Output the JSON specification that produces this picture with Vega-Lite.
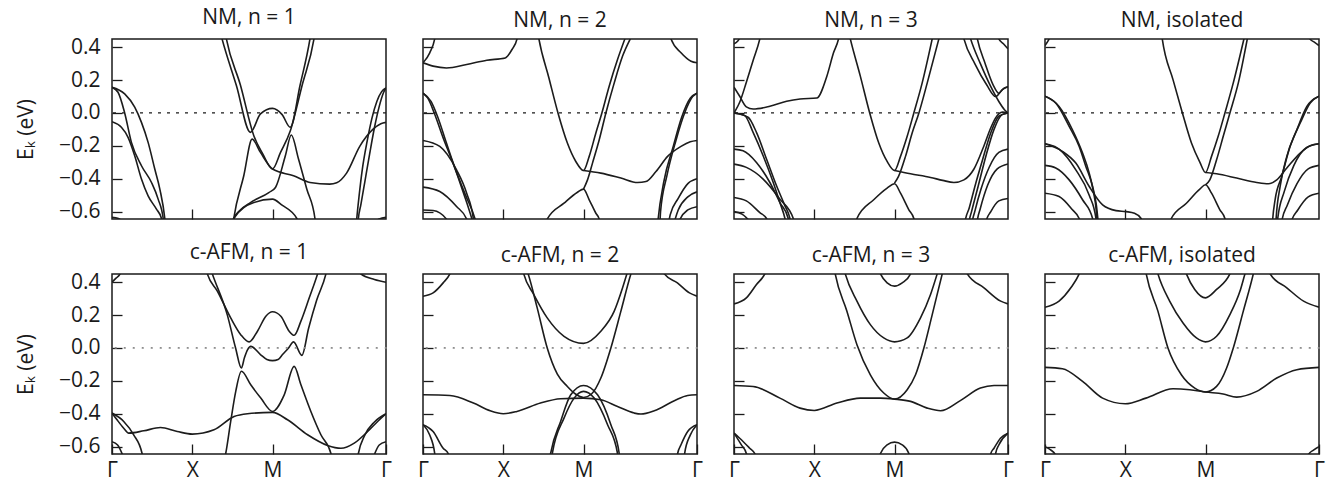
{
"$schema": "https://vega.github.io/schema/vega-lite/v6.json",
"background": "white",
"padding": {"left": 14, "top": 6, "right": 2, "bottom": 0},
"spacing": 18,
"datasets": {"bands": [
{"p":1,"b":1,"k":0,"e":0.156},{"p":1,"b":1,"k":0.158,"e":0.116},{"p":1,"b":1,"k":0.283,"e":0.035},{"p":1,"b":1,"k":0.367,"e":-0.057},{"p":1,"b":1,"k":0.45,"e":-0.179},{"p":1,"b":1,"k":0.533,"e":-0.341},{"p":1,"b":1,"k":0.596,"e":-0.463},{"p":1,"b":1,"k":0.658,"e":-0.642},{"p":1,"b":1,"k":0.67,"e":-0.7},
{"p":1,"b":2,"k":0,"e":0.156},{"p":1,"b":2,"k":0.075,"e":0.126},{"p":1,"b":2,"k":0.158,"e":0},{"p":1,"b":2,"k":0.242,"e":-0.179},{"p":1,"b":2,"k":0.367,"e":-0.321},{"p":1,"b":2,"k":0.492,"e":-0.423},{"p":1,"b":2,"k":0.575,"e":-0.524},{"p":1,"b":2,"k":0.638,"e":-0.642},{"p":1,"b":2,"k":0.65,"e":-0.7},
{"p":1,"b":3,"k":0,"e":-0.053},{"p":1,"b":3,"k":0.117,"e":-0.087},{"p":1,"b":3,"k":0.2,"e":-0.148},{"p":1,"b":3,"k":0.283,"e":-0.26},{"p":1,"b":3,"k":0.367,"e":-0.402},{"p":1,"b":3,"k":0.45,"e":-0.504},{"p":1,"b":3,"k":0.554,"e":-0.585},{"p":1,"b":3,"k":0.617,"e":-0.642},{"p":1,"b":3,"k":0.63,"e":-0.7},
{"p":1,"b":4,"k":0,"e":-0.635},{"p":1,"b":4,"k":0.08,"e":-0.642},{"p":1,"b":4,"k":0.15,"e":-0.67},
{"p":1,"b":5,"k":1.35,"e":0.49},{"p":1,"b":5,"k":1.371,"e":0.451},{"p":1,"b":5,"k":1.55,"e":0.167},{"p":1,"b":5,"k":1.725,"e":-0.118},{"p":1,"b":5,"k":1.85,"e":-0.006},{"p":1,"b":5,"k":2,"e":0.028},{"p":1,"b":5,"k":2.12,"e":-0.01},{"p":1,"b":5,"k":2.221,"e":-0.087},{"p":1,"b":5,"k":2.344,"e":0.17},{"p":1,"b":5,"k":2.467,"e":0.451},{"p":1,"b":5,"k":2.48,"e":0.49},
{"p":1,"b":6,"k":1.41,"e":0.49},{"p":1,"b":6,"k":1.425,"e":0.451},{"p":1,"b":6,"k":1.6,"e":0.17},{"p":1,"b":6,"k":1.767,"e":-0.138},{"p":1,"b":6,"k":1.88,"e":-0.25},{"p":1,"b":6,"k":2,"e":-0.341},{"p":1,"b":6,"k":2.1,"e":-0.24},{"p":1,"b":6,"k":2.221,"e":-0.11},{"p":1,"b":6,"k":2.37,"e":0.17},{"p":1,"b":6,"k":2.517,"e":0.451},{"p":1,"b":6,"k":2.53,"e":0.49},
{"p":1,"b":7,"k":1.5,"e":-0.7},{"p":1,"b":7,"k":1.517,"e":-0.642},{"p":1,"b":7,"k":1.6,"e":-0.59},{"p":1,"b":7,"k":1.725,"e":-0.545},{"p":1,"b":7,"k":1.954,"e":-0.484},{"p":1,"b":7,"k":2.037,"e":-0.453},{"p":1,"b":7,"k":2.16,"e":-0.26},{"p":1,"b":7,"k":2.234,"e":-0.134},{"p":1,"b":7,"k":2.324,"e":-0.28},{"p":1,"b":7,"k":2.427,"e":-0.463},{"p":1,"b":7,"k":2.529,"e":-0.642},{"p":1,"b":7,"k":2.54,"e":-0.7},
{"p":1,"b":8,"k":1.5,"e":-0.7},{"p":1,"b":8,"k":1.517,"e":-0.642},{"p":1,"b":8,"k":1.642,"e":-0.382},{"p":1,"b":8,"k":1.746,"e":-0.159},{"p":1,"b":8,"k":1.85,"e":-0.24},{"p":1,"b":8,"k":2,"e":-0.341},{"p":1,"b":8,"k":2.262,"e":-0.382},{"p":1,"b":8,"k":2.467,"e":-0.423},{"p":1,"b":8,"k":2.713,"e":-0.433},{"p":1,"b":8,"k":2.8,"e":-0.425},{"p":1,"b":8,"k":2.923,"e":-0.366},{"p":1,"b":8,"k":3.087,"e":-0.203},{"p":1,"b":8,"k":3.25,"e":-0.1},{"p":1,"b":8,"k":3.35,"e":-0.065},{"p":1,"b":8,"k":3.414,"e":-0.057},
{"p":1,"b":9,"k":1.5,"e":-0.68},{"p":1,"b":9,"k":1.517,"e":-0.642},{"p":1,"b":9,"k":1.767,"e":-0.545},{"p":1,"b":9,"k":2,"e":-0.524},{"p":1,"b":9,"k":2.119,"e":-0.561},{"p":1,"b":9,"k":2.303,"e":-0.642},{"p":1,"b":9,"k":2.32,"e":-0.68},
{"p":1,"b":10,"k":3.04,"e":-0.7},{"p":1,"b":10,"k":3.05,"e":-0.642},{"p":1,"b":10,"k":3.08,"e":-0.5},{"p":1,"b":10,"k":3.12,"e":-0.34},{"p":1,"b":10,"k":3.18,"e":-0.17},{"p":1,"b":10,"k":3.24,"e":-0.03},{"p":1,"b":10,"k":3.3,"e":0.07},{"p":1,"b":10,"k":3.36,"e":0.13},{"p":1,"b":10,"k":3.414,"e":0.152},
{"p":1,"b":11,"k":3.06,"e":-0.7},{"p":1,"b":11,"k":3.07,"e":-0.642},{"p":1,"b":11,"k":3.1,"e":-0.56},{"p":1,"b":11,"k":3.15,"e":-0.42},{"p":1,"b":11,"k":3.21,"e":-0.25},{"p":1,"b":11,"k":3.27,"e":-0.09},{"p":1,"b":11,"k":3.33,"e":0.04},{"p":1,"b":11,"k":3.38,"e":0.12},{"p":1,"b":11,"k":3.414,"e":0.152},
{"p":1,"b":12,"k":3.25,"e":-0.67},{"p":1,"b":12,"k":3.33,"e":-0.645},{"p":1,"b":12,"k":3.414,"e":-0.635},

{"p":2,"b":1,"k":0,"e":0.305},{"p":2,"b":1,"k":0.126,"e":0.285},{"p":2,"b":1,"k":0.293,"e":0.274},{"p":2,"b":1,"k":0.544,"e":0.295},{"p":2,"b":1,"k":0.795,"e":0.321},{"p":2,"b":1,"k":1.025,"e":0.335},{"p":2,"b":1,"k":1.109,"e":0.386},{"p":2,"b":1,"k":1.172,"e":0.451},{"p":2,"b":1,"k":1.19,"e":0.5},
{"p":2,"b":2,"k":0,"e":0.305},{"p":2,"b":2,"k":0.084,"e":0.366},{"p":2,"b":2,"k":0.146,"e":0.451},{"p":2,"b":2,"k":0.16,"e":0.49},
{"p":2,"b":3,"k":3.07,"e":0.49},{"p":2,"b":3,"k":3.09,"e":0.451},{"p":2,"b":3,"k":3.215,"e":0.366},{"p":2,"b":3,"k":3.34,"e":0.315},{"p":2,"b":3,"k":3.414,"e":0.305},
{"p":2,"b":4,"k":0,"e":0.12},{"p":2,"b":4,"k":0.06,"e":0.09},{"p":2,"b":4,"k":0.14,"e":0},{"p":2,"b":4,"k":0.25,"e":-0.15},{"p":2,"b":4,"k":0.37,"e":-0.3},{"p":2,"b":4,"k":0.5,"e":-0.48},{"p":2,"b":4,"k":0.61,"e":-0.646},{"p":2,"b":4,"k":0.64,"e":-0.7},
{"p":2,"b":5,"k":0,"e":0.12},{"p":2,"b":5,"k":0.1,"e":0.07},{"p":2,"b":5,"k":0.18,"e":-0.02},{"p":2,"b":5,"k":0.29,"e":-0.18},{"p":2,"b":5,"k":0.41,"e":-0.35},{"p":2,"b":5,"k":0.53,"e":-0.5},{"p":2,"b":5,"k":0.65,"e":-0.646},{"p":2,"b":5,"k":0.68,"e":-0.7},
{"p":2,"b":6,"k":0,"e":-0.167},{"p":2,"b":6,"k":0.209,"e":-0.203},{"p":2,"b":6,"k":0.418,"e":-0.346},{"p":2,"b":6,"k":0.544,"e":-0.488},{"p":2,"b":6,"k":0.628,"e":-0.646},{"p":2,"b":6,"k":0.64,"e":-0.7},
{"p":2,"b":7,"k":0,"e":-0.451},{"p":2,"b":7,"k":0.209,"e":-0.478},{"p":2,"b":7,"k":0.418,"e":-0.569},{"p":2,"b":7,"k":0.544,"e":-0.646},{"p":2,"b":7,"k":0.56,"e":-0.7},
{"p":2,"b":8,"k":0,"e":-0.59},{"p":2,"b":8,"k":0.126,"e":-0.593},{"p":2,"b":8,"k":0.293,"e":-0.646},{"p":2,"b":8,"k":0.31,"e":-0.7},
{"p":2,"b":9,"k":1.43,"e":0.49},{"p":2,"b":9,"k":1.444,"e":0.451},{"p":2,"b":9,"k":1.569,"e":0.213},{"p":2,"b":9,"k":1.682,"e":0},{"p":2,"b":9,"k":1.799,"e":-0.183},{"p":2,"b":9,"k":1.904,"e":-0.295},{"p":2,"b":9,"k":2,"e":-0.35},{"p":2,"b":9,"k":2.071,"e":-0.264},{"p":2,"b":9,"k":2.154,"e":-0.122},{"p":2,"b":9,"k":2.229,"e":0},{"p":2,"b":9,"k":2.32,"e":0.163},{"p":2,"b":9,"k":2.424,"e":0.325},{"p":2,"b":9,"k":2.516,"e":0.451},
{"p":2,"b":10,"k":2,"e":-0.463},{"p":2,"b":10,"k":2.05,"e":-0.407},{"p":2,"b":10,"k":2.112,"e":-0.305},{"p":2,"b":10,"k":2.196,"e":-0.163},{"p":2,"b":10,"k":2.279,"e":0},{"p":2,"b":10,"k":2.383,"e":0.183},{"p":2,"b":10,"k":2.487,"e":0.346},{"p":2,"b":10,"k":2.583,"e":0.451},
{"p":2,"b":11,"k":1.53,"e":-0.7},{"p":2,"b":11,"k":1.548,"e":-0.646},{"p":2,"b":11,"k":1.757,"e":-0.549},{"p":2,"b":11,"k":1.925,"e":-0.482},{"p":2,"b":11,"k":2,"e":-0.463},{"p":2,"b":11,"k":2.071,"e":-0.528},{"p":2,"b":11,"k":2.154,"e":-0.61},{"p":2,"b":11,"k":2.196,"e":-0.646},{"p":2,"b":11,"k":2.21,"e":-0.7},
{"p":2,"b":12,"k":2,"e":-0.35},{"p":2,"b":12,"k":2.216,"e":-0.366},{"p":2,"b":12,"k":2.466,"e":-0.396},{"p":2,"b":12,"k":2.674,"e":-0.423},{"p":2,"b":12,"k":2.778,"e":-0.417},{"p":2,"b":12,"k":2.903,"e":-0.356},{"p":2,"b":12,"k":3.048,"e":-0.264},{"p":2,"b":12,"k":3.215,"e":-0.203},{"p":2,"b":12,"k":3.33,"e":-0.175},{"p":2,"b":12,"k":3.414,"e":-0.167},
{"p":2,"b":13,"k":2.92,"e":-0.7},{"p":2,"b":13,"k":2.93,"e":-0.646},{"p":2,"b":13,"k":3,"e":-0.42},{"p":2,"b":13,"k":3.12,"e":-0.2},{"p":2,"b":13,"k":3.22,"e":-0.03},{"p":2,"b":13,"k":3.33,"e":0.09},{"p":2,"b":13,"k":3.414,"e":0.12},
{"p":2,"b":14,"k":2.95,"e":-0.7},{"p":2,"b":14,"k":2.96,"e":-0.6},{"p":2,"b":14,"k":3.04,"e":-0.38},{"p":2,"b":14,"k":3.15,"e":-0.17},{"p":2,"b":14,"k":3.26,"e":0},{"p":2,"b":14,"k":3.36,"e":0.1},{"p":2,"b":14,"k":3.414,"e":0.12},
{"p":2,"b":15,"k":3.05,"e":-0.7},{"p":2,"b":15,"k":3.08,"e":-0.62},{"p":2,"b":15,"k":3.18,"e":-0.52},{"p":2,"b":15,"k":3.3,"e":-0.43},{"p":2,"b":15,"k":3.414,"e":-0.4},
{"p":2,"b":16,"k":3.11,"e":-0.7},{"p":2,"b":16,"k":3.18,"e":-0.59},{"p":2,"b":16,"k":3.3,"e":-0.51},{"p":2,"b":16,"k":3.414,"e":-0.48},
{"p":2,"b":17,"k":3.17,"e":-0.7},{"p":2,"b":17,"k":3.2,"e":-0.65},{"p":2,"b":17,"k":3.3,"e":-0.59},{"p":2,"b":17,"k":3.414,"e":-0.57},

{"p":3,"b":1,"k":0,"e":0.42},{"p":3,"b":1,"k":0.05,"e":0.44},{"p":3,"b":1,"k":0.09,"e":0.47},
{"p":3,"b":2,"k":0,"e":0},{"p":3,"b":2,"k":0.071,"e":0.065},{"p":3,"b":2,"k":0.154,"e":0.187},{"p":3,"b":2,"k":0.238,"e":0.319},{"p":3,"b":2,"k":0.322,"e":0.451},{"p":3,"b":2,"k":0.34,"e":0.49},
{"p":3,"b":3,"k":0,"e":0.157},{"p":3,"b":3,"k":0.071,"e":0.102},{"p":3,"b":3,"k":0.154,"e":0.037},{"p":3,"b":3,"k":0.238,"e":0.024},{"p":3,"b":3,"k":0.447,"e":0.041},{"p":3,"b":3,"k":0.656,"e":0.071},{"p":3,"b":3,"k":0.823,"e":0.085},{"p":3,"b":3,"k":1.031,"e":0.091},{"p":3,"b":3,"k":1.157,"e":0.224},{"p":3,"b":3,"k":1.24,"e":0.366},{"p":3,"b":3,"k":1.303,"e":0.451},{"p":3,"b":3,"k":1.32,"e":0.49},
{"p":3,"b":4,"k":0,"e":0},{"p":3,"b":4,"k":0.134,"e":-0.016},{"p":3,"b":4,"k":0.238,"e":-0.118},{"p":3,"b":4,"k":0.363,"e":-0.26},{"p":3,"b":4,"k":0.489,"e":-0.423},{"p":3,"b":4,"k":0.572,"e":-0.545},{"p":3,"b":4,"k":0.635,"e":-0.642},{"p":3,"b":4,"k":0.66,"e":-0.7},
{"p":3,"b":5,"k":0,"e":0},{"p":3,"b":5,"k":0.175,"e":-0.026},{"p":3,"b":5,"k":0.28,"e":-0.118},{"p":3,"b":5,"k":0.405,"e":-0.28},{"p":3,"b":5,"k":0.53,"e":-0.443},{"p":3,"b":5,"k":0.635,"e":-0.565},{"p":3,"b":5,"k":0.697,"e":-0.642},{"p":3,"b":5,"k":0.72,"e":-0.7},
{"p":3,"b":6,"k":0,"e":-0.22},{"p":3,"b":6,"k":0.113,"e":-0.23},{"p":3,"b":6,"k":0.28,"e":-0.301},{"p":3,"b":6,"k":0.447,"e":-0.423},{"p":3,"b":6,"k":0.572,"e":-0.545},{"p":3,"b":6,"k":0.676,"e":-0.642},{"p":3,"b":6,"k":0.7,"e":-0.7},
{"p":3,"b":7,"k":0,"e":-0.311},{"p":3,"b":7,"k":0.154,"e":-0.331},{"p":3,"b":7,"k":0.363,"e":-0.402},{"p":3,"b":7,"k":0.572,"e":-0.524},{"p":3,"b":7,"k":0.739,"e":-0.642},{"p":3,"b":7,"k":0.76,"e":-0.7},
{"p":3,"b":8,"k":0,"e":-0.514},{"p":3,"b":8,"k":0.154,"e":-0.535},{"p":3,"b":8,"k":0.322,"e":-0.606},{"p":3,"b":8,"k":0.405,"e":-0.642},{"p":3,"b":8,"k":0.43,"e":-0.7},
{"p":3,"b":9,"k":0,"e":-0.6},{"p":3,"b":9,"k":0.1,"e":-0.615},{"p":3,"b":9,"k":0.2,"e":-0.66},
{"p":3,"b":10,"k":1.43,"e":0.49},{"p":3,"b":10,"k":1.449,"e":0.451},{"p":3,"b":10,"k":1.574,"e":0.224},{"p":3,"b":10,"k":1.691,"e":0},{"p":3,"b":10,"k":1.804,"e":-0.183},{"p":3,"b":10,"k":1.908,"e":-0.295},{"p":3,"b":10,"k":2,"e":-0.35},{"p":3,"b":10,"k":2.075,"e":-0.264},{"p":3,"b":10,"k":2.158,"e":-0.142},{"p":3,"b":10,"k":2.241,"e":0},{"p":3,"b":10,"k":2.345,"e":0.183},{"p":3,"b":10,"k":2.47,"e":0.451},
{"p":3,"b":11,"k":2,"e":-0.427},{"p":3,"b":11,"k":2.05,"e":-0.386},{"p":3,"b":11,"k":2.137,"e":-0.264},{"p":3,"b":11,"k":2.22,"e":-0.122},{"p":3,"b":11,"k":2.304,"e":0},{"p":3,"b":11,"k":2.408,"e":0.183},{"p":3,"b":11,"k":2.553,"e":0.451},
{"p":3,"b":12,"k":1.52,"e":-0.7},{"p":3,"b":12,"k":1.532,"e":-0.642},{"p":3,"b":12,"k":1.741,"e":-0.528},{"p":3,"b":12,"k":1.908,"e":-0.457},{"p":3,"b":12,"k":2,"e":-0.431},{"p":3,"b":12,"k":2.075,"e":-0.488},{"p":3,"b":12,"k":2.179,"e":-0.589},{"p":3,"b":12,"k":2.241,"e":-0.642},{"p":3,"b":12,"k":2.26,"e":-0.7},
{"p":3,"b":13,"k":2,"e":-0.35},{"p":3,"b":13,"k":2.2,"e":-0.37},{"p":3,"b":13,"k":2.449,"e":-0.392},{"p":3,"b":13,"k":2.6,"e":-0.41},{"p":3,"b":13,"k":2.74,"e":-0.423},{"p":3,"b":13,"k":2.865,"e":-0.407},{"p":3,"b":13,"k":2.99,"e":-0.341},{"p":3,"b":13,"k":3.115,"e":-0.199},{"p":3,"b":13,"k":3.2,"e":-0.09},{"p":3,"b":13,"k":3.26,"e":-0.03},{"p":3,"b":13,"k":3.344,"e":0.005},{"p":3,"b":13,"k":3.414,"e":0},
{"p":3,"b":14,"k":2.85,"e":0.48},{"p":3,"b":14,"k":2.865,"e":0.451},{"p":3,"b":14,"k":3,"e":0.3},{"p":3,"b":14,"k":3.15,"e":0.17},{"p":3,"b":14,"k":3.26,"e":0.1},{"p":3,"b":14,"k":3.34,"e":0.14},{"p":3,"b":14,"k":3.414,"e":0.16},
{"p":3,"b":15,"k":2.93,"e":0.48},{"p":3,"b":15,"k":2.948,"e":0.451},{"p":3,"b":15,"k":3.07,"e":0.3},{"p":3,"b":15,"k":3.2,"e":0.16},{"p":3,"b":15,"k":3.3,"e":0.07},{"p":3,"b":15,"k":3.37,"e":0.02},{"p":3,"b":15,"k":3.414,"e":0},
{"p":3,"b":16,"k":3.02,"e":0.48},{"p":3,"b":16,"k":3.032,"e":0.451},{"p":3,"b":16,"k":3.13,"e":0.3},{"p":3,"b":16,"k":3.23,"e":0.17},{"p":3,"b":16,"k":3.3,"e":0.12},{"p":3,"b":16,"k":3.36,"e":0.15},{"p":3,"b":16,"k":3.414,"e":0.16},
{"p":3,"b":17,"k":3.28,"e":0.48},{"p":3,"b":17,"k":3.3,"e":0.451},{"p":3,"b":17,"k":3.36,"e":0.42},{"p":3,"b":17,"k":3.414,"e":0.39},
{"p":3,"b":18,"k":2.87,"e":-0.7},{"p":3,"b":18,"k":2.88,"e":-0.66},{"p":3,"b":18,"k":2.93,"e":-0.58},{"p":3,"b":18,"k":3,"e":-0.45},{"p":3,"b":18,"k":3.1,"e":-0.28},{"p":3,"b":18,"k":3.2,"e":-0.12},{"p":3,"b":18,"k":3.3,"e":-0.02},{"p":3,"b":18,"k":3.414,"e":0},
{"p":3,"b":19,"k":2.92,"e":-0.7},{"p":3,"b":19,"k":2.93,"e":-0.66},{"p":3,"b":19,"k":2.96,"e":-0.6},{"p":3,"b":19,"k":3.04,"e":-0.45},{"p":3,"b":19,"k":3.14,"e":-0.26},{"p":3,"b":19,"k":3.24,"e":-0.1},{"p":3,"b":19,"k":3.34,"e":-0.01},{"p":3,"b":19,"k":3.414,"e":0},
{"p":3,"b":20,"k":2.96,"e":-0.7},{"p":3,"b":20,"k":2.97,"e":-0.66},{"p":3,"b":20,"k":3,"e":-0.6},{"p":3,"b":20,"k":3.08,"e":-0.46},{"p":3,"b":20,"k":3.18,"e":-0.33},{"p":3,"b":20,"k":3.3,"e":-0.24},{"p":3,"b":20,"k":3.414,"e":-0.22},
{"p":3,"b":21,"k":3.02,"e":-0.7},{"p":3,"b":21,"k":3.03,"e":-0.66},{"p":3,"b":21,"k":3.07,"e":-0.58},{"p":3,"b":21,"k":3.16,"e":-0.44},{"p":3,"b":21,"k":3.28,"e":-0.34},{"p":3,"b":21,"k":3.414,"e":-0.31},
{"p":3,"b":22,"k":3.13,"e":-0.7},{"p":3,"b":22,"k":3.14,"e":-0.66},{"p":3,"b":22,"k":3.2,"e":-0.6},{"p":3,"b":22,"k":3.3,"e":-0.535},{"p":3,"b":22,"k":3.414,"e":-0.52},

{"p":4,"b":1,"k":0,"e":0.41},{"p":4,"b":1,"k":0.04,"e":0.44},{"p":4,"b":1,"k":0.07,"e":0.47},
{"p":4,"b":2,"k":3.28,"e":0.48},{"p":4,"b":2,"k":3.3,"e":0.451},{"p":4,"b":2,"k":3.36,"e":0.43},{"p":4,"b":2,"k":3.414,"e":0.41},
{"p":4,"b":3,"k":0,"e":0.102},{"p":4,"b":3,"k":0.134,"e":0.061},{"p":4,"b":3,"k":0.301,"e":-0.081},{"p":4,"b":3,"k":0.426,"e":-0.203},{"p":4,"b":3,"k":0.509,"e":-0.325},{"p":4,"b":3,"k":0.593,"e":-0.447},{"p":4,"b":3,"k":0.64,"e":-0.56},{"p":4,"b":3,"k":0.67,"e":-0.7},
{"p":4,"b":4,"k":0,"e":0.102},{"p":4,"b":4,"k":0.175,"e":0.04},{"p":4,"b":4,"k":0.342,"e":-0.102},{"p":4,"b":4,"k":0.468,"e":-0.244},{"p":4,"b":4,"k":0.551,"e":-0.366},{"p":4,"b":4,"k":0.6,"e":-0.47},{"p":4,"b":4,"k":0.64,"e":-0.6},{"p":4,"b":4,"k":0.655,"e":-0.7},
{"p":4,"b":5,"k":0,"e":-0.187},{"p":4,"b":5,"k":0.217,"e":-0.234},{"p":4,"b":5,"k":0.384,"e":-0.305},{"p":4,"b":5,"k":0.551,"e":-0.447},{"p":4,"b":5,"k":0.718,"e":-0.559},{"p":4,"b":5,"k":0.885,"e":-0.594},{"p":4,"b":5,"k":1.01,"e":-0.6},{"p":4,"b":5,"k":1.115,"e":-0.61},{"p":4,"b":5,"k":1.198,"e":-0.642},{"p":4,"b":5,"k":1.22,"e":-0.7},
{"p":4,"b":6,"k":0,"e":-0.187},{"p":4,"b":6,"k":0.175,"e":-0.22},{"p":4,"b":6,"k":0.384,"e":-0.346},{"p":4,"b":6,"k":0.551,"e":-0.5},{"p":4,"b":6,"k":0.635,"e":-0.642},{"p":4,"b":6,"k":0.65,"e":-0.7},
{"p":4,"b":7,"k":0,"e":-0.319},{"p":4,"b":7,"k":0.134,"e":-0.335},{"p":4,"b":7,"k":0.301,"e":-0.407},{"p":4,"b":7,"k":0.468,"e":-0.528},{"p":4,"b":7,"k":0.593,"e":-0.642},{"p":4,"b":7,"k":0.61,"e":-0.7},
{"p":4,"b":8,"k":0,"e":-0.488},{"p":4,"b":8,"k":0.175,"e":-0.508},{"p":4,"b":8,"k":0.342,"e":-0.589},{"p":4,"b":8,"k":0.426,"e":-0.642},{"p":4,"b":8,"k":0.44,"e":-0.7},
{"p":4,"b":9,"k":1.45,"e":0.49},{"p":4,"b":9,"k":1.461,"e":0.451},{"p":4,"b":9,"k":1.595,"e":0.203},{"p":4,"b":9,"k":1.712,"e":0},{"p":4,"b":9,"k":1.825,"e":-0.183},{"p":4,"b":9,"k":1.929,"e":-0.299},{"p":4,"b":9,"k":2,"e":-0.362},{"p":4,"b":9,"k":2.075,"e":-0.264},{"p":4,"b":9,"k":2.158,"e":-0.142},{"p":4,"b":9,"k":2.242,"e":0},{"p":4,"b":9,"k":2.346,"e":0.183},{"p":4,"b":9,"k":2.479,"e":0.451},
{"p":4,"b":10,"k":2,"e":-0.437},{"p":4,"b":10,"k":2.054,"e":-0.407},{"p":4,"b":10,"k":2.138,"e":-0.285},{"p":4,"b":10,"k":2.221,"e":-0.142},{"p":4,"b":10,"k":2.304,"e":0},{"p":4,"b":10,"k":2.409,"e":0.183},{"p":4,"b":10,"k":2.521,"e":0.451},
{"p":4,"b":11,"k":1.56,"e":-0.7},{"p":4,"b":11,"k":1.574,"e":-0.642},{"p":4,"b":11,"k":1.762,"e":-0.549},{"p":4,"b":11,"k":1.929,"e":-0.463},{"p":4,"b":11,"k":2,"e":-0.437},{"p":4,"b":11,"k":2.075,"e":-0.488},{"p":4,"b":11,"k":2.179,"e":-0.589},{"p":4,"b":11,"k":2.242,"e":-0.642},{"p":4,"b":11,"k":2.26,"e":-0.7},
{"p":4,"b":12,"k":2,"e":-0.362},{"p":4,"b":12,"k":2.138,"e":-0.37},{"p":4,"b":12,"k":2.388,"e":-0.396},{"p":4,"b":12,"k":2.638,"e":-0.423},{"p":4,"b":12,"k":2.784,"e":-0.431},{"p":4,"b":12,"k":2.888,"e":-0.407},{"p":4,"b":12,"k":3.013,"e":-0.335},{"p":4,"b":12,"k":3.18,"e":-0.244},{"p":4,"b":12,"k":3.305,"e":-0.199},{"p":4,"b":12,"k":3.414,"e":-0.187},
{"p":4,"b":13,"k":2.83,"e":-0.7},{"p":4,"b":13,"k":2.838,"e":-0.642},{"p":4,"b":13,"k":2.867,"e":-0.528},{"p":4,"b":13,"k":2.95,"e":-0.386},{"p":4,"b":13,"k":3.055,"e":-0.203},{"p":4,"b":13,"k":3.18,"e":-0.061},{"p":4,"b":13,"k":3.305,"e":0.061},{"p":4,"b":13,"k":3.414,"e":0.102},
{"p":4,"b":14,"k":2.875,"e":-0.7},{"p":4,"b":14,"k":2.88,"e":-0.642},{"p":4,"b":14,"k":2.93,"e":-0.447},{"p":4,"b":14,"k":3.013,"e":-0.264},{"p":4,"b":14,"k":3.138,"e":-0.102},{"p":4,"b":14,"k":3.263,"e":0.04},{"p":4,"b":14,"k":3.414,"e":0.102},
{"p":4,"b":15,"k":2.89,"e":-0.7},{"p":4,"b":15,"k":2.9,"e":-0.642},{"p":4,"b":15,"k":2.98,"e":-0.48},{"p":4,"b":15,"k":3.1,"e":-0.32},{"p":4,"b":15,"k":3.26,"e":-0.21},{"p":4,"b":15,"k":3.414,"e":-0.187},
{"p":4,"b":16,"k":2.94,"e":-0.7},{"p":4,"b":16,"k":2.95,"e":-0.66},{"p":4,"b":16,"k":3.02,"e":-0.56},{"p":4,"b":16,"k":3.14,"e":-0.43},{"p":4,"b":16,"k":3.28,"e":-0.34},{"p":4,"b":16,"k":3.414,"e":-0.319},
{"p":4,"b":17,"k":3.06,"e":-0.7},{"p":4,"b":17,"k":3.07,"e":-0.66},{"p":4,"b":17,"k":3.15,"e":-0.59},{"p":4,"b":17,"k":3.28,"e":-0.51},{"p":4,"b":17,"k":3.414,"e":-0.488},

{"p":5,"b":1,"k":0,"e":0.4},{"p":5,"b":1,"k":0.05,"e":0.425},{"p":5,"b":1,"k":0.1,"e":0.451},{"p":5,"b":1,"k":0.12,"e":0.48},
{"p":5,"b":2,"k":3.08,"e":0.48},{"p":5,"b":2,"k":3.1,"e":0.451},{"p":5,"b":2,"k":3.27,"e":0.417},{"p":5,"b":2,"k":3.414,"e":0.4},
{"p":5,"b":3,"k":1.17,"e":0.48},{"p":5,"b":3,"k":1.1875,"e":0.451},{"p":5,"b":3,"k":1.3125,"e":0.346},{"p":5,"b":3,"k":1.479,"e":0.183},{"p":5,"b":3,"k":1.604,"e":0.081},{"p":5,"b":3,"k":1.708,"e":0.037},{"p":5,"b":3,"k":1.8125,"e":0.102},{"p":5,"b":3,"k":1.917,"e":0.193},{"p":5,"b":3,"k":2,"e":0.22},{"p":5,"b":3,"k":2.104,"e":0.193},{"p":5,"b":3,"k":2.208,"e":0.102},{"p":5,"b":3,"k":2.27,"e":0.077},{"p":5,"b":3,"k":2.354,"e":0.163},{"p":5,"b":3,"k":2.458,"e":0.305},{"p":5,"b":3,"k":2.562,"e":0.451},{"p":5,"b":3,"k":2.58,"e":0.48},
{"p":5,"b":4,"k":1.23,"e":0.48},{"p":5,"b":4,"k":1.25,"e":0.451},{"p":5,"b":4,"k":1.4375,"e":0.2},{"p":5,"b":4,"k":1.54,"e":0},{"p":5,"b":4,"k":1.6125,"e":-0.122},{"p":5,"b":4,"k":1.65,"e":-0.06},{"p":5,"b":4,"k":1.69,"e":-0.01},{"p":5,"b":4,"k":1.729,"e":0.01},{"p":5,"b":4,"k":1.85,"e":-0.04},{"p":5,"b":4,"k":1.93,"e":-0.07},{"p":5,"b":4,"k":2,"e":-0.077},{"p":5,"b":4,"k":2.07,"e":-0.07},{"p":5,"b":4,"k":2.125,"e":-0.04},{"p":5,"b":4,"k":2.2,"e":0},{"p":5,"b":4,"k":2.262,"e":0.037},{"p":5,"b":4,"k":2.366,"e":-0.045},{"p":5,"b":4,"k":2.45,"e":0.12},{"p":5,"b":4,"k":2.55,"e":0.29},{"p":5,"b":4,"k":2.666,"e":0.451},{"p":5,"b":4,"k":2.68,"e":0.48},
{"p":5,"b":5,"k":1.39,"e":-0.7},{"p":5,"b":5,"k":1.417,"e":-0.642},{"p":5,"b":5,"k":1.479,"e":-0.447},{"p":5,"b":5,"k":1.542,"e":-0.264},{"p":5,"b":5,"k":1.6125,"e":-0.142},{"p":5,"b":5,"k":1.729,"e":-0.224},{"p":5,"b":5,"k":1.854,"e":-0.305},{"p":5,"b":5,"k":2,"e":-0.386},{"p":5,"b":5,"k":2.146,"e":-0.285},{"p":5,"b":5,"k":2.27,"e":-0.112},{"p":5,"b":5,"k":2.354,"e":-0.224},{"p":5,"b":5,"k":2.478,"e":-0.386},{"p":5,"b":5,"k":2.603,"e":-0.528},{"p":5,"b":5,"k":2.728,"e":-0.642},{"p":5,"b":5,"k":2.75,"e":-0.7},
{"p":5,"b":6,"k":0,"e":-0.396},{"p":5,"b":6,"k":0.0625,"e":-0.437},{"p":5,"b":6,"k":0.146,"e":-0.488},{"p":5,"b":6,"k":0.208,"e":-0.518},{"p":5,"b":6,"k":0.396,"e":-0.504},{"p":5,"b":6,"k":0.604,"e":-0.484},{"p":5,"b":6,"k":0.8125,"e":-0.508},{"p":5,"b":6,"k":1,"e":-0.524},{"p":5,"b":6,"k":1.271,"e":-0.498},{"p":5,"b":6,"k":1.521,"e":-0.417},{"p":5,"b":6,"k":1.6875,"e":-0.4},{"p":5,"b":6,"k":2,"e":-0.392},{"p":5,"b":6,"k":2.187,"e":-0.437},{"p":5,"b":6,"k":2.437,"e":-0.528},{"p":5,"b":6,"k":2.686,"e":-0.593},{"p":5,"b":6,"k":2.853,"e":-0.61},{"p":5,"b":6,"k":3.019,"e":-0.579},{"p":5,"b":6,"k":3.186,"e":-0.508},{"p":5,"b":6,"k":3.31,"e":-0.447},{"p":5,"b":6,"k":3.414,"e":-0.4},
{"p":5,"b":7,"k":0,"e":-0.396},{"p":5,"b":7,"k":0.146,"e":-0.447},{"p":5,"b":7,"k":0.27,"e":-0.528},{"p":5,"b":7,"k":0.375,"e":-0.642},{"p":5,"b":7,"k":0.39,"e":-0.7},
{"p":5,"b":8,"k":3.05,"e":-0.7},{"p":5,"b":8,"k":3.07,"e":-0.642},{"p":5,"b":8,"k":3.15,"e":-0.53},{"p":5,"b":8,"k":3.27,"e":-0.45},{"p":5,"b":8,"k":3.414,"e":-0.4},
{"p":5,"b":9,"k":0,"e":-0.57},{"p":5,"b":9,"k":0.07,"e":-0.59},{"p":5,"b":9,"k":0.14,"e":-0.66},
{"p":5,"b":10,"k":3.26,"e":-0.66},{"p":5,"b":10,"k":3.33,"e":-0.59},{"p":5,"b":10,"k":3.414,"e":-0.57},

{"p":6,"b":1,"k":0,"e":0.315},{"p":6,"b":1,"k":0.126,"e":0.335},{"p":6,"b":1,"k":0.251,"e":0.396},{"p":6,"b":1,"k":0.335,"e":0.451},{"p":6,"b":1,"k":0.36,"e":0.48},
{"p":6,"b":2,"k":2.98,"e":0.48},{"p":6,"b":2,"k":3.007,"e":0.451},{"p":6,"b":2,"k":3.17,"e":0.396},{"p":6,"b":2,"k":3.32,"e":0.335},{"p":6,"b":2,"k":3.414,"e":0.315},
{"p":6,"b":3,"k":1.24,"e":0.48},{"p":6,"b":3,"k":1.255,"e":0.451},{"p":6,"b":3,"k":1.381,"e":0.325},{"p":6,"b":3,"k":1.548,"e":0.183},{"p":6,"b":3,"k":1.757,"e":0.071},{"p":6,"b":3,"k":2,"e":0.028},{"p":6,"b":3,"k":2.216,"e":0.102},{"p":6,"b":3,"k":2.383,"e":0.224},{"p":6,"b":3,"k":2.487,"e":0.366},{"p":6,"b":3,"k":2.541,"e":0.451},{"p":6,"b":3,"k":2.56,"e":0.48},
{"p":6,"b":4,"k":1.29,"e":0.48},{"p":6,"b":4,"k":1.31,"e":0.451},{"p":6,"b":4,"k":1.423,"e":0.244},{"p":6,"b":4,"k":1.548,"e":0},{"p":6,"b":4,"k":1.674,"e":-0.159},{"p":6,"b":4,"k":1.799,"e":-0.234},{"p":6,"b":4,"k":1.9,"e":-0.28},{"p":6,"b":4,"k":2,"e":-0.301},{"p":6,"b":4,"k":2.1,"e":-0.28},{"p":6,"b":4,"k":2.216,"e":-0.183},{"p":6,"b":4,"k":2.341,"e":0},{"p":6,"b":4,"k":2.466,"e":0.224},{"p":6,"b":4,"k":2.591,"e":0.451},{"p":6,"b":4,"k":2.61,"e":0.48},
{"p":6,"b":5,"k":1.57,"e":-0.7},{"p":6,"b":5,"k":1.59,"e":-0.642},{"p":6,"b":5,"k":1.715,"e":-0.447},{"p":6,"b":5,"k":1.841,"e":-0.285},{"p":6,"b":5,"k":2,"e":-0.228},{"p":6,"b":5,"k":2.175,"e":-0.285},{"p":6,"b":5,"k":2.341,"e":-0.467},{"p":6,"b":5,"k":2.445,"e":-0.642},{"p":6,"b":5,"k":2.46,"e":-0.7},
{"p":6,"b":6,"k":1.6,"e":-0.7},{"p":6,"b":6,"k":1.611,"e":-0.642},{"p":6,"b":6,"k":1.757,"e":-0.427},{"p":6,"b":6,"k":1.883,"e":-0.305},{"p":6,"b":6,"k":2,"e":-0.264},{"p":6,"b":6,"k":2.133,"e":-0.305},{"p":6,"b":6,"k":2.3,"e":-0.467},{"p":6,"b":6,"k":2.424,"e":-0.642},{"p":6,"b":6,"k":2.44,"e":-0.7},
{"p":6,"b":7,"k":0,"e":-0.285},{"p":6,"b":7,"k":0.335,"e":-0.289},{"p":6,"b":7,"k":0.628,"e":-0.335},{"p":6,"b":7,"k":0.837,"e":-0.382},{"p":6,"b":7,"k":1,"e":-0.4},{"p":6,"b":7,"k":1.17,"e":-0.386},{"p":6,"b":7,"k":1.464,"e":-0.335},{"p":6,"b":7,"k":1.715,"e":-0.309},{"p":6,"b":7,"k":2,"e":-0.305},{"p":6,"b":7,"k":2.216,"e":-0.315},{"p":6,"b":7,"k":2.424,"e":-0.356},{"p":6,"b":7,"k":2.632,"e":-0.396},{"p":6,"b":7,"k":2.716,"e":-0.402},{"p":6,"b":7,"k":2.882,"e":-0.382},{"p":6,"b":7,"k":3.132,"e":-0.321},{"p":6,"b":7,"k":3.298,"e":-0.289},{"p":6,"b":7,"k":3.414,"e":-0.285},
{"p":6,"b":8,"k":0,"e":-0.467},{"p":6,"b":8,"k":0.126,"e":-0.508},{"p":6,"b":8,"k":0.251,"e":-0.61},{"p":6,"b":8,"k":0.314,"e":-0.642},{"p":6,"b":8,"k":0.33,"e":-0.7},
{"p":6,"b":9,"k":0,"e":-0.467},{"p":6,"b":9,"k":0.084,"e":-0.53},{"p":6,"b":9,"k":0.146,"e":-0.642},{"p":6,"b":9,"k":0.16,"e":-0.7},
{"p":6,"b":10,"k":3.16,"e":-0.7},{"p":6,"b":10,"k":3.173,"e":-0.642},{"p":6,"b":10,"k":3.215,"e":-0.589},{"p":6,"b":10,"k":3.298,"e":-0.508},{"p":6,"b":10,"k":3.414,"e":-0.467},
{"p":6,"b":11,"k":3.25,"e":-0.7},{"p":6,"b":11,"k":3.26,"e":-0.642},{"p":6,"b":11,"k":3.33,"e":-0.53},{"p":6,"b":11,"k":3.414,"e":-0.467},

{"p":7,"b":1,"k":0,"e":0.268},{"p":7,"b":1,"k":0.154,"e":0.305},{"p":7,"b":1,"k":0.28,"e":0.386},{"p":7,"b":1,"k":0.384,"e":0.451},{"p":7,"b":1,"k":0.41,"e":0.48},
{"p":7,"b":2,"k":2.89,"e":0.48},{"p":7,"b":2,"k":2.907,"e":0.451},{"p":7,"b":2,"k":3.115,"e":0.366},{"p":7,"b":2,"k":3.323,"e":0.285},{"p":7,"b":2,"k":3.414,"e":0.268},
{"p":7,"b":3,"k":1.8,"e":0.48},{"p":7,"b":3,"k":1.825,"e":0.451},{"p":7,"b":3,"k":1.908,"e":0.396},{"p":7,"b":3,"k":2,"e":0.376},{"p":7,"b":3,"k":2.096,"e":0.396},{"p":7,"b":3,"k":2.2,"e":0.451},{"p":7,"b":3,"k":2.22,"e":0.48},
{"p":7,"b":4,"k":1.37,"e":0.48},{"p":7,"b":4,"k":1.386,"e":0.451},{"p":7,"b":4,"k":1.532,"e":0.285},{"p":7,"b":4,"k":1.699,"e":0.142},{"p":7,"b":4,"k":1.866,"e":0.061},{"p":7,"b":4,"k":2,"e":0.037},{"p":7,"b":4,"k":2.158,"e":0.061},{"p":7,"b":4,"k":2.324,"e":0.183},{"p":7,"b":4,"k":2.449,"e":0.325},{"p":7,"b":4,"k":2.532,"e":0.451},{"p":7,"b":4,"k":2.55,"e":0.48},
{"p":7,"b":5,"k":1.25,"e":0.48},{"p":7,"b":5,"k":1.261,"e":0.451},{"p":7,"b":5,"k":1.407,"e":0.224},{"p":7,"b":5,"k":1.532,"e":0.02},{"p":7,"b":5,"k":1.699,"e":-0.163},{"p":7,"b":5,"k":1.866,"e":-0.274},{"p":7,"b":5,"k":2,"e":-0.311},{"p":7,"b":5,"k":2.158,"e":-0.254},{"p":7,"b":5,"k":2.262,"e":-0.163},{"p":7,"b":5,"k":2.366,"e":0},{"p":7,"b":5,"k":2.47,"e":0.203},{"p":7,"b":5,"k":2.595,"e":0.451},{"p":7,"b":5,"k":2.61,"e":0.48},
{"p":7,"b":6,"k":0,"e":-0.228},{"p":7,"b":6,"k":0.238,"e":-0.234},{"p":7,"b":6,"k":0.572,"e":-0.305},{"p":7,"b":6,"k":0.823,"e":-0.366},{"p":7,"b":6,"k":1,"e":-0.38},{"p":7,"b":6,"k":1.282,"e":-0.335},{"p":7,"b":6,"k":1.574,"e":-0.305},{"p":7,"b":6,"k":1.825,"e":-0.305},{"p":7,"b":6,"k":2,"e":-0.311},{"p":7,"b":6,"k":2.2,"e":-0.325},{"p":7,"b":6,"k":2.408,"e":-0.366},{"p":7,"b":6,"k":2.574,"e":-0.382},{"p":7,"b":6,"k":2.82,"e":-0.32},{"p":7,"b":6,"k":3.07,"e":-0.244},{"p":7,"b":6,"k":3.24,"e":-0.228},{"p":7,"b":6,"k":3.414,"e":-0.228},
{"p":7,"b":7,"k":1.8,"e":-0.7},{"p":7,"b":7,"k":1.825,"e":-0.642},{"p":7,"b":7,"k":1.908,"e":-0.589},{"p":7,"b":7,"k":2,"e":-0.573},{"p":7,"b":7,"k":2.096,"e":-0.589},{"p":7,"b":7,"k":2.179,"e":-0.642},{"p":7,"b":7,"k":2.2,"e":-0.7},
{"p":7,"b":8,"k":0,"e":-0.518},{"p":7,"b":8,"k":0.071,"e":-0.549},{"p":7,"b":8,"k":0.196,"e":-0.61},{"p":7,"b":8,"k":0.259,"e":-0.642},{"p":7,"b":8,"k":0.28,"e":-0.7},
{"p":7,"b":9,"k":0,"e":-0.518},{"p":7,"b":9,"k":0.092,"e":-0.59},{"p":7,"b":9,"k":0.154,"e":-0.642},{"p":7,"b":9,"k":0.17,"e":-0.7},
{"p":7,"b":10,"k":3.19,"e":-0.7},{"p":7,"b":10,"k":3.2,"e":-0.642},{"p":7,"b":10,"k":3.24,"e":-0.61},{"p":7,"b":10,"k":3.32,"e":-0.549},{"p":7,"b":10,"k":3.414,"e":-0.518},
{"p":7,"b":11,"k":3.25,"e":-0.7},{"p":7,"b":11,"k":3.26,"e":-0.642},{"p":7,"b":11,"k":3.3,"e":-0.59},{"p":7,"b":11,"k":3.414,"e":-0.518},

{"p":8,"b":1,"k":0,"e":0.248},{"p":8,"b":1,"k":0.175,"e":0.285},{"p":8,"b":1,"k":0.322,"e":0.366},{"p":8,"b":1,"k":0.426,"e":0.451},{"p":8,"b":1,"k":0.45,"e":0.48},
{"p":8,"b":2,"k":2.78,"e":0.48},{"p":8,"b":2,"k":2.805,"e":0.451},{"p":8,"b":2,"k":3.013,"e":0.366},{"p":8,"b":2,"k":3.222,"e":0.285},{"p":8,"b":2,"k":3.414,"e":0.248},
{"p":8,"b":3,"k":1.74,"e":0.48},{"p":8,"b":3,"k":1.762,"e":0.451},{"p":8,"b":3,"k":1.866,"e":0.356},{"p":8,"b":3,"k":2,"e":0.305},{"p":8,"b":3,"k":2.138,"e":0.356},{"p":8,"b":3,"k":2.304,"e":0.451},{"p":8,"b":3,"k":2.33,"e":0.48},
{"p":8,"b":4,"k":1.39,"e":0.48},{"p":8,"b":4,"k":1.407,"e":0.451},{"p":8,"b":4,"k":1.553,"e":0.285},{"p":8,"b":4,"k":1.72,"e":0.152},{"p":8,"b":4,"k":1.887,"e":0.061},{"p":8,"b":4,"k":2,"e":0.037},{"p":8,"b":4,"k":2.138,"e":0.071},{"p":8,"b":4,"k":2.304,"e":0.203},{"p":8,"b":4,"k":2.43,"e":0.346},{"p":8,"b":4,"k":2.492,"e":0.451},{"p":8,"b":4,"k":2.51,"e":0.48},
{"p":8,"b":5,"k":1.25,"e":0.48},{"p":8,"b":5,"k":1.261,"e":0.451},{"p":8,"b":5,"k":1.407,"e":0.224},{"p":8,"b":5,"k":1.532,"e":0},{"p":8,"b":5,"k":1.699,"e":-0.163},{"p":8,"b":5,"k":1.866,"e":-0.244},{"p":8,"b":5,"k":2,"e":-0.268},{"p":8,"b":5,"k":2.138,"e":-0.234},{"p":8,"b":5,"k":2.263,"e":-0.122},{"p":8,"b":5,"k":2.346,"e":0},{"p":8,"b":5,"k":2.471,"e":0.224},{"p":8,"b":5,"k":2.596,"e":0.451},{"p":8,"b":5,"k":2.61,"e":0.48},
{"p":8,"b":6,"k":0,"e":-0.118},{"p":8,"b":6,"k":0.217,"e":-0.126},{"p":8,"b":6,"k":0.468,"e":-0.203},{"p":8,"b":6,"k":0.718,"e":-0.305},{"p":8,"b":6,"k":1,"e":-0.339},{"p":8,"b":6,"k":1.258,"e":-0.305},{"p":8,"b":6,"k":1.595,"e":-0.248},{"p":8,"b":6,"k":1.804,"e":-0.254},{"p":8,"b":6,"k":2,"e":-0.268},{"p":8,"b":6,"k":2.22,"e":-0.28},{"p":8,"b":6,"k":2.388,"e":-0.299},{"p":8,"b":6,"k":2.638,"e":-0.264},{"p":8,"b":6,"k":2.888,"e":-0.183},{"p":8,"b":6,"k":3.138,"e":-0.132},{"p":8,"b":6,"k":3.414,"e":-0.118},
{"p":8,"b":7,"k":0,"e":-0.6},{"p":8,"b":7,"k":0.07,"e":-0.62},{"p":8,"b":7,"k":0.13,"e":-0.65},{"p":8,"b":7,"k":0.15,"e":-0.7},
{"p":8,"b":8,"k":3.26,"e":-0.7},{"p":8,"b":8,"k":3.28,"e":-0.65},{"p":8,"b":8,"k":3.35,"e":-0.62},{"p":8,"b":8,"k":3.414,"e":-0.6}
]},
"vconcat": [
{"spacing": 37, "bounds": "flush", "hconcat": [
{"width": 274, "height": 180, "title": "NM, n = 1", "layer": [
 {"data": {"name": "bands"}, "transform": [{"filter": "datum.p == 1"}], "mark": {"type": "line", "clip": true, "interpolate": "monotone", "color": "#1c1c1c", "strokeWidth": 1.6},
  "encoding": {"x": {"field": "k", "type": "quantitative", "scale": {"domain": [0, 3.4142], "nice": false, "zero": false}, "axis": {"values": [1, 2], "labels": false, "title": null, "tickSize": -10}},
   "y": {"field": "e", "type": "quantitative", "scale": {"domain": [-0.645, 0.45], "nice": false, "zero": false}, "axis": {"values": [-0.6, -0.4, -0.2, 0, 0.2, 0.4], "labelExpr": "replace(format(datum.value, '.1f'), '-', '−')", "labelOverlap": false, "title": "Eₖ (eV)", "tickSize": -10, "labelPadding": 22, "titlePadding": 22}},
   "detail": {"field": "b", "type": "nominal"}}},
 {"data": {"values": [{}]}, "mark": {"type": "rule", "strokeDash": [3, 6], "color": "#1a1a1a", "strokeWidth": 1.3}, "encoding": {"y": {"datum": 0, "type": "quantitative", "axis": {"values": [-0.6, -0.4, -0.2, 0, 0.2, 0.4], "labelExpr": "replace(format(datum.value, '.1f'), '-', '−')", "labelOverlap": false, "title": "Eₖ (eV)", "tickSize": -10, "labelPadding": 22, "titlePadding": 22}}}}
]},
{"width": 274, "height": 180, "title": "NM, n = 2", "layer": [
 {"data": {"name": "bands"}, "transform": [{"filter": "datum.p == 2"}], "mark": {"type": "line", "clip": true, "interpolate": "monotone", "color": "#1c1c1c", "strokeWidth": 1.6},
  "encoding": {"x": {"field": "k", "type": "quantitative", "scale": {"domain": [0, 3.4142], "nice": false, "zero": false}, "axis": {"values": [1, 2], "labels": false, "title": null, "tickSize": -10}},
   "y": {"field": "e", "type": "quantitative", "scale": {"domain": [-0.645, 0.45], "nice": false, "zero": false}, "axis": {"values": [-0.6, -0.4, -0.2, 0, 0.2, 0.4], "labels": false, "title": null, "tickSize": -10}},
   "detail": {"field": "b", "type": "nominal"}}},
 {"data": {"values": [{}]}, "mark": {"type": "rule", "strokeDash": [3, 6], "color": "#1a1a1a", "strokeWidth": 1.3}, "encoding": {"y": {"datum": 0, "type": "quantitative", "axis": {"values": [-0.6, -0.4, -0.2, 0, 0.2, 0.4], "labels": false, "title": null, "tickSize": -10}}}}
]},
{"width": 274, "height": 180, "title": "NM, n = 3", "layer": [
 {"data": {"name": "bands"}, "transform": [{"filter": "datum.p == 3"}], "mark": {"type": "line", "clip": true, "interpolate": "monotone", "color": "#1c1c1c", "strokeWidth": 1.6},
  "encoding": {"x": {"field": "k", "type": "quantitative", "scale": {"domain": [0, 3.4142], "nice": false, "zero": false}, "axis": {"values": [1, 2], "labels": false, "title": null, "tickSize": -10}},
   "y": {"field": "e", "type": "quantitative", "scale": {"domain": [-0.645, 0.45], "nice": false, "zero": false}, "axis": {"values": [-0.6, -0.4, -0.2, 0, 0.2, 0.4], "labels": false, "title": null, "tickSize": -10}},
   "detail": {"field": "b", "type": "nominal"}}},
 {"data": {"values": [{}]}, "mark": {"type": "rule", "strokeDash": [3, 6], "color": "#1a1a1a", "strokeWidth": 1.3}, "encoding": {"y": {"datum": 0, "type": "quantitative", "axis": {"values": [-0.6, -0.4, -0.2, 0, 0.2, 0.4], "labels": false, "title": null, "tickSize": -10}}}}
]},
{"width": 274, "height": 180, "title": "NM, isolated", "layer": [
 {"data": {"name": "bands"}, "transform": [{"filter": "datum.p == 4"}], "mark": {"type": "line", "clip": true, "interpolate": "monotone", "color": "#1c1c1c", "strokeWidth": 1.6},
  "encoding": {"x": {"field": "k", "type": "quantitative", "scale": {"domain": [0, 3.4142], "nice": false, "zero": false}, "axis": {"values": [1, 2], "labels": false, "title": null, "tickSize": -10}},
   "y": {"field": "e", "type": "quantitative", "scale": {"domain": [-0.645, 0.45], "nice": false, "zero": false}, "axis": {"values": [-0.6, -0.4, -0.2, 0, 0.2, 0.4], "labels": false, "title": null, "tickSize": -10}},
   "detail": {"field": "b", "type": "nominal"}}},
 {"data": {"values": [{}]}, "mark": {"type": "rule", "strokeDash": [3, 6], "color": "#1a1a1a", "strokeWidth": 1.3}, "encoding": {"y": {"datum": 0, "type": "quantitative", "axis": {"values": [-0.6, -0.4, -0.2, 0, 0.2, 0.4], "labels": false, "title": null, "tickSize": -10}}}}
]}
]},
{"spacing": 37, "bounds": "flush", "hconcat": [
{"width": 274, "height": 180, "title": "c-AFM, n = 1", "layer": [
 {"data": {"name": "bands"}, "transform": [{"filter": "datum.p == 5"}], "mark": {"type": "line", "clip": true, "interpolate": "monotone", "color": "#1c1c1c", "strokeWidth": 1.6},
  "encoding": {"x": {"field": "k", "type": "quantitative", "scale": {"domain": [0, 3.4142], "nice": false, "zero": false}, "axis": {"values": [0, 1, 2, 3.4142], "labelExpr": "datum.value < 0.5 ? 'Γ' : datum.value < 1.5 ? 'X' : datum.value < 2.5 ? 'M' : 'Γ'", "labelFlush": false, "labelOverlap": false, "title": null, "tickSize": -10, "labelPadding": 15}},
   "y": {"field": "e", "type": "quantitative", "scale": {"domain": [-0.645, 0.45], "nice": false, "zero": false}, "axis": {"values": [-0.6, -0.4, -0.2, 0, 0.2, 0.4], "labelExpr": "replace(format(datum.value, '.1f'), '-', '−')", "labelOverlap": false, "title": "Eₖ (eV)", "tickSize": -10, "labelPadding": 22, "titlePadding": 22}},
   "detail": {"field": "b", "type": "nominal"}}},
 {"data": {"values": [{}]}, "mark": {"type": "rule", "strokeDash": [0.5, 8.5], "strokeCap": "round", "color": "#8a8a8a", "strokeWidth": 1.8}, "encoding": {"y": {"datum": 0, "type": "quantitative", "axis": {"values": [-0.6, -0.4, -0.2, 0, 0.2, 0.4], "labelExpr": "replace(format(datum.value, '.1f'), '-', '−')", "labelOverlap": false, "title": "Eₖ (eV)", "tickSize": -10, "labelPadding": 22, "titlePadding": 22}}}}
]},
{"width": 274, "height": 180, "title": "c-AFM, n = 2", "layer": [
 {"data": {"name": "bands"}, "transform": [{"filter": "datum.p == 6"}], "mark": {"type": "line", "clip": true, "interpolate": "monotone", "color": "#1c1c1c", "strokeWidth": 1.6},
  "encoding": {"x": {"field": "k", "type": "quantitative", "scale": {"domain": [0, 3.4142], "nice": false, "zero": false}, "axis": {"values": [0, 1, 2, 3.4142], "labelExpr": "datum.value < 0.5 ? 'Γ' : datum.value < 1.5 ? 'X' : datum.value < 2.5 ? 'M' : 'Γ'", "labelFlush": false, "labelOverlap": false, "title": null, "tickSize": -10, "labelPadding": 15}},
   "y": {"field": "e", "type": "quantitative", "scale": {"domain": [-0.645, 0.45], "nice": false, "zero": false}, "axis": {"values": [-0.6, -0.4, -0.2, 0, 0.2, 0.4], "labels": false, "title": null, "tickSize": -10}},
   "detail": {"field": "b", "type": "nominal"}}},
 {"data": {"values": [{}]}, "mark": {"type": "rule", "strokeDash": [0.5, 8.5], "strokeCap": "round", "color": "#8a8a8a", "strokeWidth": 1.8}, "encoding": {"y": {"datum": 0, "type": "quantitative", "axis": {"values": [-0.6, -0.4, -0.2, 0, 0.2, 0.4], "labels": false, "title": null, "tickSize": -10}}}}
]},
{"width": 274, "height": 180, "title": "c-AFM, n = 3", "layer": [
 {"data": {"name": "bands"}, "transform": [{"filter": "datum.p == 7"}], "mark": {"type": "line", "clip": true, "interpolate": "monotone", "color": "#1c1c1c", "strokeWidth": 1.6},
  "encoding": {"x": {"field": "k", "type": "quantitative", "scale": {"domain": [0, 3.4142], "nice": false, "zero": false}, "axis": {"values": [0, 1, 2, 3.4142], "labelExpr": "datum.value < 0.5 ? 'Γ' : datum.value < 1.5 ? 'X' : datum.value < 2.5 ? 'M' : 'Γ'", "labelFlush": false, "labelOverlap": false, "title": null, "tickSize": -10, "labelPadding": 15}},
   "y": {"field": "e", "type": "quantitative", "scale": {"domain": [-0.645, 0.45], "nice": false, "zero": false}, "axis": {"values": [-0.6, -0.4, -0.2, 0, 0.2, 0.4], "labels": false, "title": null, "tickSize": -10}},
   "detail": {"field": "b", "type": "nominal"}}},
 {"data": {"values": [{}]}, "mark": {"type": "rule", "strokeDash": [0.5, 8.5], "strokeCap": "round", "color": "#8a8a8a", "strokeWidth": 1.8}, "encoding": {"y": {"datum": 0, "type": "quantitative", "axis": {"values": [-0.6, -0.4, -0.2, 0, 0.2, 0.4], "labels": false, "title": null, "tickSize": -10}}}}
]},
{"width": 274, "height": 180, "title": "c-AFM, isolated", "layer": [
 {"data": {"name": "bands"}, "transform": [{"filter": "datum.p == 8"}], "mark": {"type": "line", "clip": true, "interpolate": "monotone", "color": "#1c1c1c", "strokeWidth": 1.6},
  "encoding": {"x": {"field": "k", "type": "quantitative", "scale": {"domain": [0, 3.4142], "nice": false, "zero": false}, "axis": {"values": [0, 1, 2, 3.4142], "labelExpr": "datum.value < 0.5 ? 'Γ' : datum.value < 1.5 ? 'X' : datum.value < 2.5 ? 'M' : 'Γ'", "labelFlush": false, "labelOverlap": false, "title": null, "tickSize": -10, "labelPadding": 15}},
   "y": {"field": "e", "type": "quantitative", "scale": {"domain": [-0.645, 0.45], "nice": false, "zero": false}, "axis": {"values": [-0.6, -0.4, -0.2, 0, 0.2, 0.4], "labels": false, "title": null, "tickSize": -10}},
   "detail": {"field": "b", "type": "nominal"}}},
 {"data": {"values": [{}]}, "mark": {"type": "rule", "strokeDash": [0.5, 8.5], "strokeCap": "round", "color": "#8a8a8a", "strokeWidth": 1.8}, "encoding": {"y": {"datum": 0, "type": "quantitative", "axis": {"values": [-0.6, -0.4, -0.2, 0, 0.2, 0.4], "labels": false, "title": null, "tickSize": -10}}}}
]}
]}
],
"config": {
 "view": {"stroke": "#1a1a1a", "strokeWidth": 1.5},
 "font": "Open Sans",
 "title": {"fontSize": 21, "fontWeight": "normal", "color": "#1a1a1a", "offset": 8, "font": "Open Sans"},
 "axis": {"domain": false, "grid": false, "tickColor": "#1a1a1a", "tickWidth": 1.3, "labelFont": "Open Sans", "labelFontSize": 21, "labelColor": "#1a1a1a", "titleFont": "Open Sans", "titleFontSize": 21, "titleFontWeight": "normal", "titleColor": "#1a1a1a"}
}
}
